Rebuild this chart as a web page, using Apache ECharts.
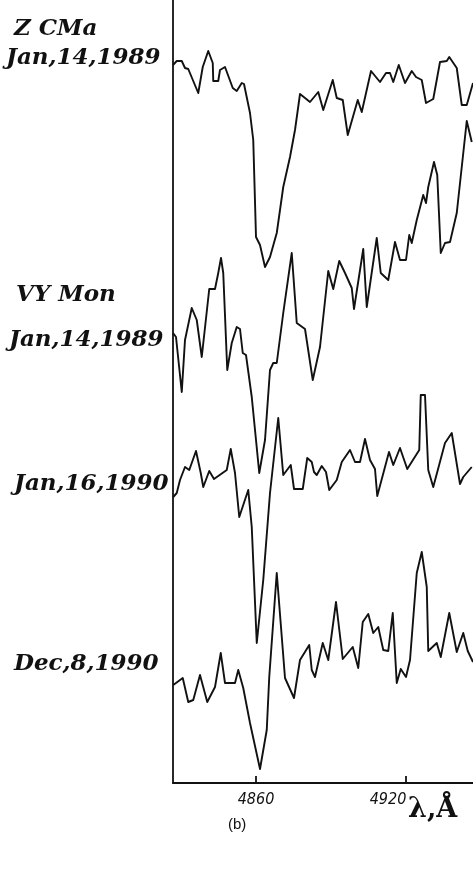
<!DOCTYPE html>
<html>
<head>
<meta charset="utf-8">
<script src="https://cdn.jsdelivr.net/npm/echarts@6/dist/echarts.min.js"></script>
<style>
  html, body { margin: 0; padding: 0; background: #fff; }
  #chart { width: 473px; height: 871px; }
</style>
</head>
<body>
<div id="chart"></div>
<script>
// Wavelengths (Å) and relative fluxes (arbitrary units, spectra offset vertically)
const zcma1989Wave = [4826.8, 4828.3, 4830.3, 4831.6, 4832.9, 4836.9, 4838.7, 4840.9, 4842.7, 4842.9, 4844.9, 4845.6, 4847.6, 4850.7, 4852.3, 4854.3, 4855.2, 4857.6, 4858.9, 4860.0, 4861.6, 4863.6, 4865.6, 4868.3, 4870.9, 4873.6, 4875.6, 4877.6, 4881.6, 4884.9, 4886.9, 4890.7, 4892.3, 4894.7, 4896.7, 4900.7, 4902.3, 4906.0, 4909.6, 4912.0, 4913.6, 4914.9, 4917.1, 4919.6, 4922.3, 4924.0, 4926.3, 4928.0, 4930.9, 4933.6, 4936.3, 4937.3, 4940.3, 4942.3, 4944.3, 4946.8];
const zcma1989Flux = [718, 722, 722, 715, 714, 690, 716, 732, 720, 702, 702, 713, 716, 695, 692, 700, 699, 670, 643, 546, 538, 516, 526, 550, 596, 626, 653, 689, 681, 691, 673, 703, 685, 683, 648, 683, 671, 712, 701, 710, 710, 701, 718, 700, 712, 706, 703, 680, 684, 721, 722, 726, 715, 678, 678, 700];

const vymon1989Wave = [4826.8, 4828.0, 4830.3, 4831.6, 4834.3, 4836.3, 4838.3, 4841.3, 4843.6, 4844.9, 4846.0, 4846.9, 4848.5, 4850.3, 4852.3, 4853.6, 4854.7, 4856.0, 4858.3, 4860.0, 4861.3, 4863.6, 4865.6, 4866.9, 4868.3, 4870.9, 4874.3, 4876.3, 4879.6, 4882.7, 4885.6, 4888.9, 4890.9, 4893.3, 4895.6, 4898.3, 4899.2, 4902.9, 4904.3, 4908.3, 4909.9, 4912.9, 4915.6, 4917.6, 4920.0, 4921.3, 4922.3, 4924.3, 4926.9, 4928.0, 4928.9, 4931.2, 4932.5, 4933.9, 4935.6, 4937.6, 4940.3, 4944.3, 4946.3];
const vymon1989Flux = [450, 446, 391, 443, 475, 463, 426, 494, 494, 510, 525, 510, 413, 440, 456, 454, 430, 428, 386, 343, 310, 343, 413, 420, 420, 470, 530, 460, 454, 403, 436, 512, 494, 522, 510, 495, 474, 534, 476, 545, 510, 503, 541, 523, 523, 548, 540, 563, 588, 580, 596, 621, 608, 530, 540, 541, 570, 662, 641];

const vymon1990aWave = [4826.9, 4828.3, 4829.6, 4831.6, 4833.3, 4836.0, 4837.9, 4838.9, 4841.3, 4843.2, 4848.3, 4849.9, 4851.6, 4853.3, 4856.9, 4858.3, 4860.3, 4862.9, 4865.6, 4868.9, 4870.9, 4873.9, 4875.2, 4878.7, 4880.5, 4882.3, 4883.2, 4884.3, 4886.3, 4888.0, 4889.3, 4892.3, 4894.3, 4897.6, 4899.6, 4901.6, 4903.6, 4905.6, 4907.6, 4908.5, 4913.2, 4914.9, 4917.6, 4920.5, 4925.3, 4925.9, 4927.6, 4928.9, 4930.9, 4935.6, 4938.3, 4941.6, 4942.9, 4946.3];
const vymon1990aFlux = [286, 290, 303, 316, 313, 332, 310, 296, 312, 304, 313, 334, 310, 266, 293, 256, 140, 203, 290, 365, 308, 318, 294, 294, 325, 321, 311, 308, 317, 311, 293, 303, 321, 333, 321, 321, 344, 323, 314, 287, 331, 318, 335, 314, 333, 388, 388, 313, 296, 340, 350, 299, 306, 316];

const vymon1990bWave = [4826.9, 4830.7, 4832.9, 4834.9, 4837.6, 4840.5, 4843.6, 4845.9, 4847.6, 4851.6, 4852.9, 4854.9, 4857.6, 4861.6, 4864.3, 4865.3, 4868.3, 4871.6, 4875.2, 4877.6, 4881.3, 4882.3, 4883.6, 4886.7, 4888.9, 4892.0, 4894.7, 4898.7, 4900.9, 4902.7, 4904.9, 4906.9, 4908.9, 4910.9, 4912.9, 4914.7, 4916.3, 4917.9, 4920.0, 4921.6, 4924.3, 4926.3, 4928.3, 4928.9, 4932.3, 4933.9, 4937.3, 4940.3, 4942.9, 4944.7, 4946.8];
const vymon1990bFlux = [98, 105, 81, 83, 108, 81, 96, 130, 100, 100, 113, 95, 60, 14, 53, 106, 210, 105, 85, 123, 138, 113, 106, 140, 123, 181, 124, 136, 115, 161, 169, 150, 156, 133, 132, 170, 100, 114, 106, 123, 210, 231, 196, 132, 140, 126, 170, 131, 150, 132, 121];

// Axis range and labelled wavelengths
const waveMin = 4826.8;
const waveMax = 4946.8;
const waveTicks = [4860, 4920];

function pairs(w, f) { return w.map((x, i) => [x, f[i]]); }

const ink = '#111';
const serifBold = '"DejaVu Serif", "Liberation Serif", serif';
const tickFamily = '"DejaVu Sans Condensed", "Liberation Sans Narrow", "Liberation Sans", sans-serif';

const chart = echarts.init(document.getElementById('chart'), null, { renderer: 'canvas' });

function spectrum(name, w, f) {
  return {
    name: name,
    type: 'line',
    data: pairs(w, f),
    showSymbol: false,
    symbol: 'none',
    smooth: false,
    lineStyle: { color: ink, width: 1.9, join: 'round' },
    emphasis: { disabled: true },
    silent: true
  };
}

function starLabel(text, x, y) {
  return {
    type: 'text', left: x, top: y,
    style: { text: text, font: 'italic bold 23px ' + serifBold, fill: ink }
  };
}

chart.setOption({
  animation: false,
  backgroundColor: '#fff',
  grid: { left: 173, right: 0, top: 0, bottom: 88 },
  xAxis: {
    type: 'value',
    min: waveMin,
    max: waveMax,
    axisLine: { show: true, lineStyle: { color: ink, width: 1.8 } },
    axisTick: { show: true, inside: true, length: 7, customValues: waveTicks, lineStyle: { color: ink, width: 1.8 } },
    axisLabel: {
      show: true,
      customValues: waveTicks,
      margin: 9,
      fontSize: 16,
      fontStyle: 'italic',
      fontFamily: tickFamily,
      color: ink,
      formatter: v => (v === 4920 ? '{b|' + v + '}' : '{a|' + v + '}'),
      rich: {
        a: { fontSize: 16, fontStyle: 'italic', fontFamily: tickFamily, color: ink },
        b: { fontSize: 16, fontStyle: 'italic', fontFamily: tickFamily, color: ink, padding: [0, 36, 10, 0] }
      }
    },
    splitLine: { show: false }
  },
  yAxis: {
    type: 'value',
    min: 0,
    max: 783,
    axisLine: { show: true, lineStyle: { color: ink, width: 1.8 } },
    axisTick: { show: false },
    axisLabel: { show: false },
    splitLine: { show: false }
  },
  series: [
    spectrum('Z CMa 1989-01-14', zcma1989Wave, zcma1989Flux),
    spectrum('VY Mon 1989-01-14', vymon1989Wave, vymon1989Flux),
    spectrum('VY Mon 1990-01-16', vymon1990aWave, vymon1990aFlux),
    spectrum('VY Mon 1990-12-08', vymon1990bWave, vymon1990bFlux)
  ],
  graphic: [
    starLabel('Z CMa', 14, 18),
    starLabel('Jan,14,1989', 6, 47),
    starLabel('VY Mon', 16, 284),
    starLabel('Jan,14,1989', 9, 329),
    starLabel('Jan,16,1990', 14, 473),
    starLabel('Dec,8,1990', 14, 653),
    {
      type: 'text', left: 408, top: 796,
      style: { text: 'λ,Å', font: 'bold 27px ' + serifBold, fill: ink }
    },
    {
      type: 'text', left: 228, top: 817,
      style: { text: '(b)', font: '15px "Liberation Sans", sans-serif', fill: ink }
    }
  ]
});
</script>
</body>
</html>
